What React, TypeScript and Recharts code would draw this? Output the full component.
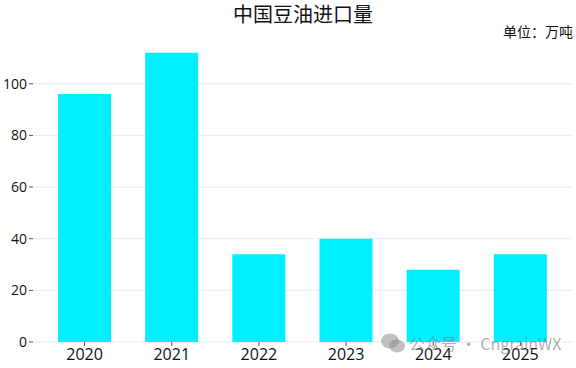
import { BarChart, Bar, XAxis, YAxis, CartesianGrid } from "recharts";

const years = ["2020", "2021", "2022", "2023", "2024", "2025"];
const imports = [96, 112, 34, 40, 28, 34];
const yTicks = [0, 20, 40, 60, 80, 100];

const data = years.map((year, i) => ({ year, value: imports[i] }));

const font = '"Noto Sans CJK SC", "Noto Sans", sans-serif';
const tickFont = '"Open Sans", "Noto Sans CJK SC", sans-serif';

export default function App() {
  return (
    <div
      style={{
        position: "absolute",
        left: 0,
        top: 0,
        width: 576,
        height: 368,
        background: "#fff",
        fontFamily: font,
      }}
    >
      <div
        style={{
          position: "absolute",
          left: 0,
          width: 606,
          top: 0,
          textAlign: "center",
          fontSize: 20,
          lineHeight: "28px",
          color: "#111",
        }}
      >
        中国豆油进口量
      </div>
      <div
        style={{
          position: "absolute",
          right: 3,
          top: 21,
          fontSize: 14,
          lineHeight: "20px",
          color: "#111",
        }}
      >
        单位：万吨
      </div>
      <BarChart
        width={576}
        height={368}
        data={data}
        margin={{ top: 45, right: 4, bottom: 2, left: 0 }}
      >
        <CartesianGrid vertical={false} stroke="#ebebeb" horizontalValues={yTicks} />
        <XAxis
          dataKey="year"
          height={24}
          padding={{ left: 8, right: 8 }}
          axisLine={false}
          tickSize={4}
          tickLine={{ stroke: "#555" }}
          tick={{ fill: "#111", fontSize: 16, fontFamily: tickFont }}
          tickMargin={3}
        />
        <YAxis
          width={33}
          domain={[0, 115]}
          ticks={yTicks}
          axisLine={false}
          tickSize={4}
          tickMargin={2}
          tickLine={{ stroke: "#555" }}
          tick={{ fill: "#111", fontSize: 14, fontFamily: tickFont }}
        />
        <Bar
          dataKey="value"
          fill="#00F0FF"
          barSize={53}
          isAnimationActive={false}
        />
      </BarChart>
      <div
        style={{
          position: "absolute",
          left: 380,
          top: 332,
          display: "flex",
          alignItems: "center",
          gap: 3,
          color: "rgba(120,120,120,0.6)",
          fontSize: 16,
          lineHeight: "22px",
          pointerEvents: "none",
        }}
      >
        <svg width="26" height="22" viewBox="0 0 26 22">
          <ellipse cx="10" cy="9" rx="9" ry="7.5" fill="rgba(140,140,140,0.55)" />
          <ellipse cx="17" cy="14" rx="8" ry="6.5" fill="rgba(140,140,140,0.55)" />
        </svg>
        <span>公众号 · CngrainWX</span>
      </div>
    </div>
  );
}
